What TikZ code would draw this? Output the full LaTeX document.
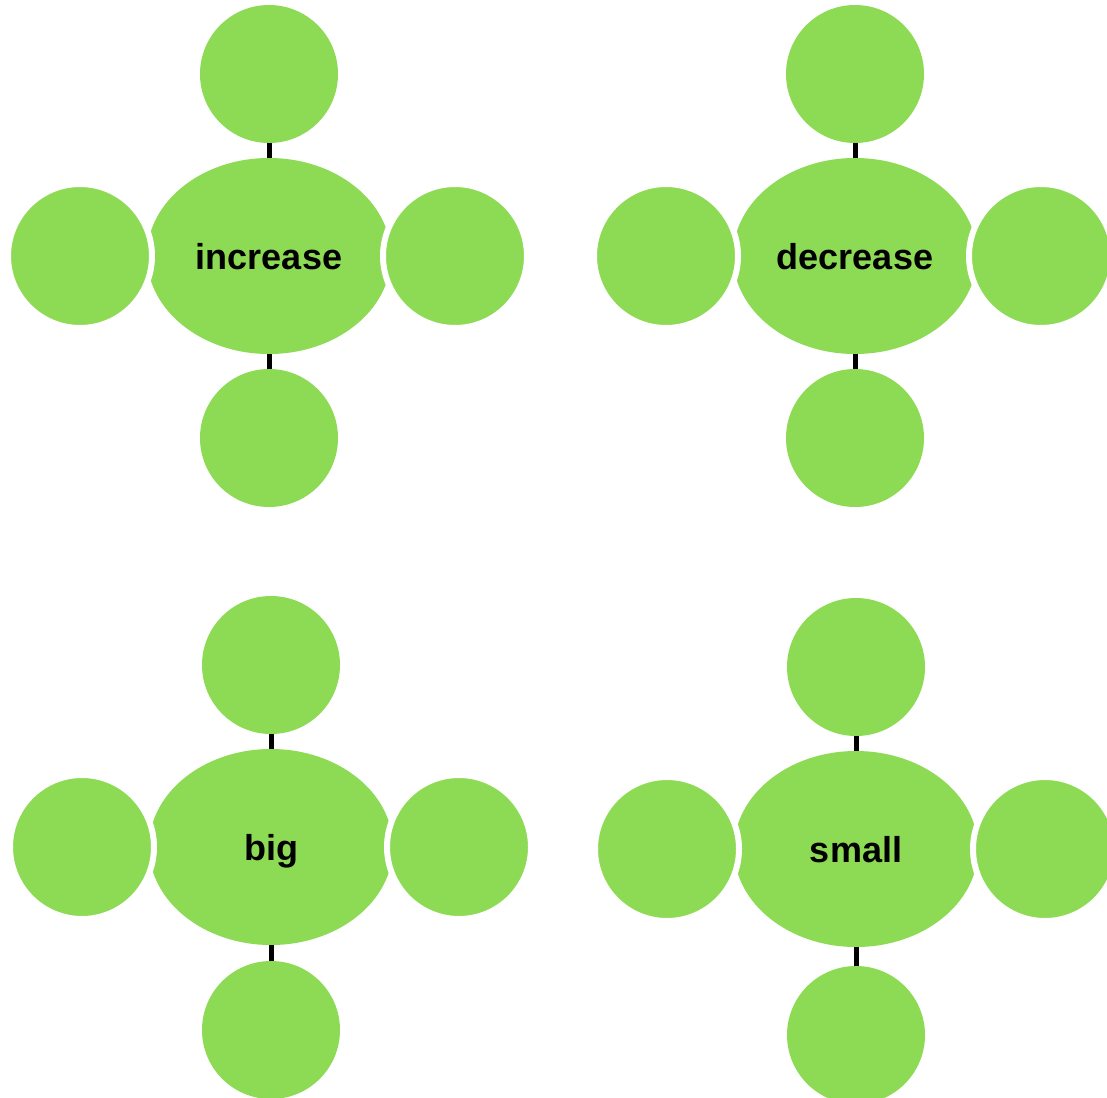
\documentclass[tikz,border=0pt]{standalone}
\usepackage{fontspec}
\setmainfont{Liberation Sans}
\usetikzlibrary{shapes.geometric}
\definecolor{leaf}{RGB}{141,218,84}
\tikzset{
  hub/.style={ellipse, fill=leaf, minimum width=244pt, minimum height=196pt, inner sep=0pt,
    text height=26pt, text depth=0pt,
    font=\fontsize{36}{40}\selectfont\bfseries},
  sat/.style={circle, fill=leaf, minimum size=138pt, inner sep=0pt},
  sidesat/.style={circle, fill=leaf, draw=white, line width=6pt, minimum size=144pt, inner sep=0pt},
  link/.style={line width=5pt, black},
}
\begin{document}
\begin{tikzpicture}[x=1pt, y=-1pt]
\fill[white] (0,0) rectangle (1107,1097);
\useasboundingbox (0,0) rectangle (1107,1097);
\clip (0,0) rectangle (1107,1097);
\foreach \i/\cx/\cy/\lab/\bo/\ro in {1/269/256/increase/182/186, 2/855/256/decrease/182/186, 3/271/847/big/183/188, 4/856/849/small/186/189}{
  \node[hub] (c\i) at (\cx,\cy) {\lab};
  \node[sat] (t\i) at (\cx,\cy-182) {};
  \node[sat] (b\i) at (\cx,\cy+\bo) {};
  \node[sidesat] (l\i) at (\cx-189,\cy) {};
  \node[sidesat] (r\i) at (\cx+\ro,\cy) {};
  \draw[link] (t\i) -- (c\i);
  \draw[link] (c\i) -- (b\i);
}
\end{tikzpicture}
\end{document}
